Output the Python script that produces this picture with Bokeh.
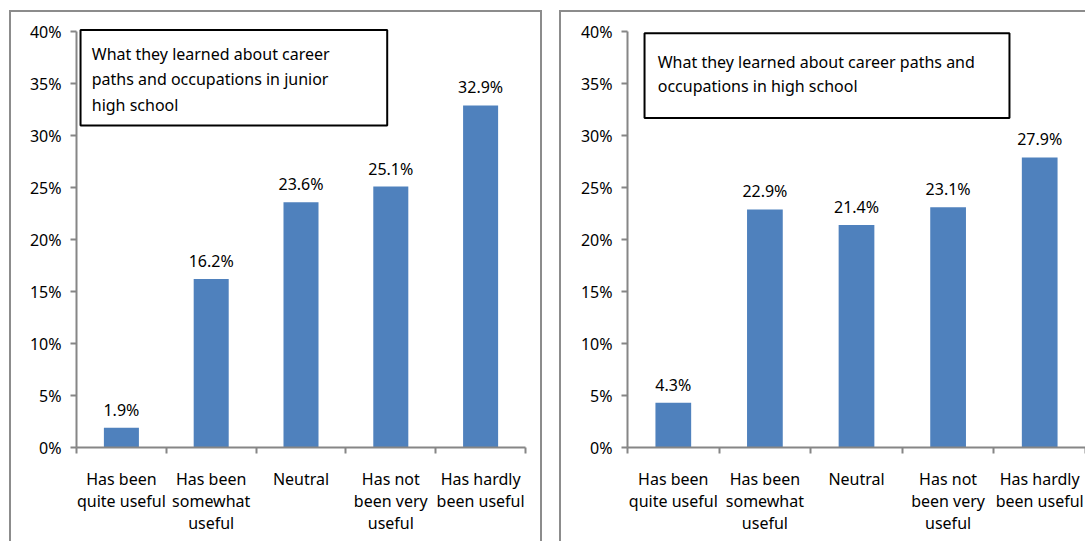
from bokeh.plotting import figure
from bokeh.models import FixedTicker, BoxAnnotation, Label, ColumnDataSource, Range1d, Spacer
from bokeh.layouts import row, column
from bokeh.embed import file_html
from bokeh.resources import INLINE
from bokeh.core.properties import value

categories = ["Has been\nquite useful", "Has been\nsomewhat\nuseful", "Neutral",
              "Has not\nbeen very\nuseful", "Has hardly\nbeen useful"]
junior_high = [1.9, 16.2, 23.6, 25.1, 32.9]
high_school = [4.3, 22.9, 21.4, 23.1, 27.9]
y_ticks = [0, 5, 10, 15, 20, 25, 30, 35, 40]
titles = ["What they learned about career\npaths and occupations in junior\nhigh school",
          "What they learned about career paths and\noccupations in high school"]

FONT = "Noto Sans"
FS = "16px"
BAR = "#4F81BD"
AXIS = "#868686"
PANEL = "#8c8c8c"


def make_panel(vals, title, width, height, mb_left, mb_right, box, text_pos, line_h, borders):
    xs = [i + 0.5 for i in range(len(categories))]
    src = ColumnDataSource(dict(x=xs, top=vals, lab=[f"{v}%" for v in vals]))
    p = figure(width=width, height=height, output_backend="svg", toolbar_location=None,
               x_range=Range1d(0, len(categories)), y_range=Range1d(0, 40.3),
               min_border_left=mb_left, min_border_right=mb_right,
               min_border_top=16, min_border_bottom=96)
    p.outline_line_color = None
    p.xgrid.visible = False
    p.ygrid.visible = False
    p.background_fill_color = "white"
    p.border_fill_color = "white"

    p.vbar(x="x", top="top", width=0.39, bottom=0, source=src, fill_color=BAR, line_color=None)
    p.text(x="x", y="top", text="lab", source=src, text_align="center", text_baseline="middle",
           y_offset=-18, text_font=value(FONT), text_font_size=FS, text_color="#000000")

    # y axis
    ya = p.yaxis[0]
    ya.ticker = FixedTicker(ticks=y_ticks)
    ya.bounds = (0, 40)
    ya.major_label_overrides = {t: f"{t}%" for t in y_ticks}
    ya.axis_line_color = AXIS
    ya.axis_line_width = 2
    ya.major_tick_line_color = AXIS
    ya.major_tick_line_width = 2
    ya.major_tick_out = 6
    ya.major_tick_in = 0
    ya.minor_tick_line_color = None
    ya.major_label_standoff = 9
    ya.major_label_text_font = FONT
    ya.major_label_text_font_size = FS
    ya.major_label_text_color = "#000000"

    # x axis
    xa = p.xaxis[0]
    xa.ticker = FixedTicker(ticks=xs, minor_ticks=list(range(len(categories) + 1)))
    xa.major_label_overrides = {x: c for x, c in zip(xs, categories)}
    xa.axis_line_color = AXIS
    xa.axis_line_width = 2
    xa.major_tick_line_color = None
    xa.major_tick_out = 0
    xa.major_tick_in = 0
    xa.minor_tick_line_color = AXIS
    xa.minor_tick_line_width = 2
    xa.minor_tick_out = 6
    xa.minor_tick_in = 0
    xa.major_label_standoff = 14
    xa.major_label_text_font = FONT
    xa.major_label_text_font_size = FS
    xa.major_label_text_color = "#000000"
    xa.major_label_text_line_height = 1.02
    xa.major_label_text_align = "center"

    bl, br, bb, bt = box
    p.add_layout(BoxAnnotation(left=bl, right=br, bottom=bb, top=bt, fill_color="white",
                               fill_alpha=1.0, line_color="#000000", line_alpha=1.0,
                               line_width=2))
    p.add_layout(Label(x=text_pos[0], y=text_pos[1], text=title, text_font=FONT,
                       text_font_size=FS, text_color="#000000", text_baseline="top",
                       text_align="left", text_line_height=line_h))
    p.styles = borders
    return p


p1 = make_panel(junior_high, titles[0], 533, 531, 65, 19,
                (0.045, 3.46, 30.96, 40.15), (0.17, 38.9), 1.15,
                {"border-top": f"2px solid {PANEL}", "border-left": f"2px solid {PANEL}",
                 "border-right": f"2px solid {PANEL}"})
p2 = make_panel(high_school, titles[1], 526, 531, 66, 2,
                (0.186, 4.17, 31.7, 39.85), (0.33, 38.1), 1.08,
                {"border-top": f"2px solid {PANEL}", "border-left": f"2px solid {PANEL}"})

layout = column(Spacer(height=10),
                row(Spacer(width=9), p1, Spacer(width=17), p2))

open("out.html", "w").write(file_html(layout, INLINE))
